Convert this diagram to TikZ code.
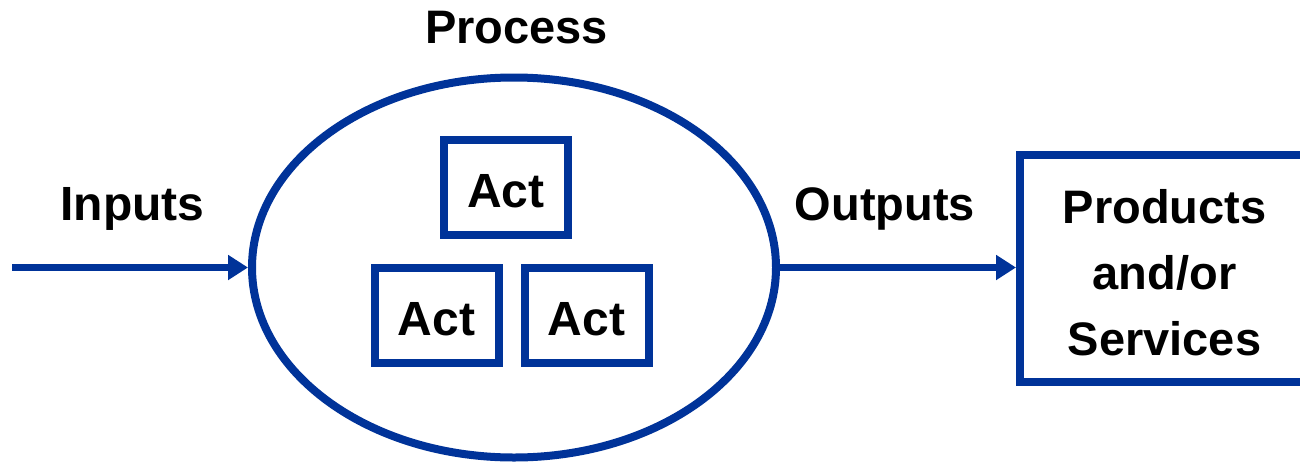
\documentclass[tikz,border=0pt]{standalone}
\usepackage{fontspec}
\setmainfont{Liberation Sans}
\usetikzlibrary{arrows.meta,shapes.geometric}
\definecolor{procblue}{RGB}{0,51,153}
\begin{document}
\begin{tikzpicture}[x=1pt,y=-1pt,
  lbl/.style={font=\fontsize{48}{58}\selectfont\bfseries, inner sep=0pt, anchor=base, text=black},
  wlbl/.style={font=\fontsize{47}{66}\selectfont\bfseries, inner sep=0pt, text=black},
  actbox/.style={draw=procblue, line width=8pt, minimum width=124pt, minimum height=95pt,
    inner sep=0pt, font=\fontsize{48}{58}\selectfont\bfseries, text height=40pt, text depth=0pt},
  procell/.style={ellipse, draw=procblue, line width=8pt, minimum width=524pt, minimum height=380pt, inner sep=0pt},
  prodbox/.style={draw=procblue, line width=8pt, minimum width=289pt, minimum height=227pt, inner sep=0pt},
  flow/.style={draw=procblue, line width=7.5pt, -{Triangle[length=20pt,width=24pt]}}
]
\useasboundingbox (0,0) rectangle (1300,463);
\clip (0,0) rectangle (1300,463);
\fill[white] (0,0) rectangle (1300,463);

% process ellipse and activities
\node[procell] (proc) at (514,267.5) {};
\node[actbox] (act1) at (506,187) {Act};
\node[actbox] (act2) at (436.5,315.5) {Act};
\node[actbox] (act3) at (586.5,315.5) {Act};

% products box
\node[prodbox] (prod) at (1164.5,268.5) {};
\node[wlbl, align=center, anchor=north] (prodtxt) at (1164.5,189.5) {Products\\and/or\\Services};

% labels
\node[lbl, font=\fontsize{47}{56}\selectfont\bfseries] (proclbl) at (516.5,43.3) {Process};
\node[lbl] (inlbl) at (132.5,220) {Inputs};
\node[wlbl, anchor=base] (outlbl) at (885,220) {Outputs};

% connectors
\coordinate (src) at (12,267.5);
\draw[flow] (src) -- (proc.west);
\draw[flow] (proc.east) -- (proc.east -| prod.west);
\end{tikzpicture}
\end{document}
